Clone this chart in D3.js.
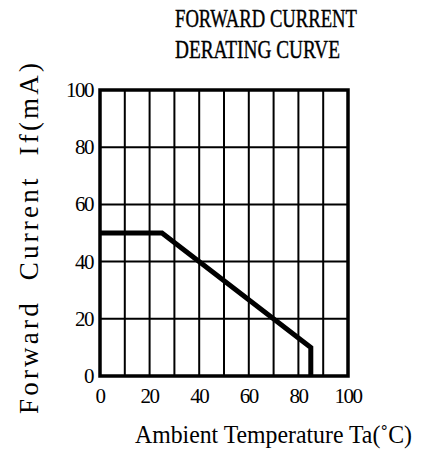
<!DOCTYPE html>
<html>
<head>
<meta charset="utf-8">
<script src="https://cdn.jsdelivr.net/npm/d3@7"></script>
<style>
  body { margin: 0; background: #fff; }
  text { font-family: "Liberation Serif", "Times New Roman", serif; fill: #000; }
</style>
</head>
<body>
<svg width="428" height="459"></svg>
<script>
// derating curve points (Ta in °C, If in mA)
var curveTa = [0, 25, 85, 85];
var curveIf = [50, 50, 10, 0];
var xTicks = [0, 20, 40, 60, 80, 100];
var yTicks = [0, 20, 40, 60, 80, 100];
var xGrid = [10, 20, 30, 40, 50, 60, 70, 80, 90];
var yGrid = [20, 40, 60, 80];
var titleLines = ["FORWARD CURRENT", "DERATING CURVE"];

var svg = d3.select("svg");
var plotL = 100, plotR = 348, plotT = 90, plotB = 376;

var x = d3.scaleLinear().domain([0, 100]).range([plotL, plotR]);
var y = d3.scaleLinear().domain([0, 100]).range([plotB, plotT]);

// grid
svg.append("g").selectAll("line")
  .data(xGrid).enter().append("line")
  .attr("x1", function (d) { return x(d); })
  .attr("x2", function (d) { return x(d); })
  .attr("y1", plotT).attr("y2", plotB)
  .attr("stroke", "#000").attr("stroke-width", 2);

svg.append("g").selectAll("line")
  .data(yGrid).enter().append("line")
  .attr("y1", function (d) { return y(d); })
  .attr("y2", function (d) { return y(d); })
  .attr("x1", plotL).attr("x2", plotR)
  .attr("stroke", "#000").attr("stroke-width", 2);

// frame
svg.append("rect")
  .attr("x", plotL).attr("y", plotT)
  .attr("width", plotR - plotL).attr("height", plotB - plotT)
  .attr("fill", "none").attr("stroke", "#000").attr("stroke-width", 3.5);

// curve
var pts = curveTa.map(function (t, i) { return [t, curveIf[i]]; });
svg.append("path")
  .datum(pts)
  .attr("d", d3.line().x(function (d) { return x(d[0]); }).y(function (d) { return y(d[1]); }))
  .attr("fill", "none").attr("stroke", "#000").attr("stroke-width", 5)
  .attr("stroke-linejoin", "miter");

// tick labels
svg.append("g").selectAll("text")
  .data(yTicks).enter().append("text")
  .attr("x", plotL - 7)
  .attr("y", function (d) { return y(d) + 7; })
  .attr("text-anchor", "end")
  .attr("font-size", 21)
  .attr("letter-spacing", -1.5)
  .text(function (d) { return d; });

svg.append("g").selectAll("text")
  .data(xTicks).enter().append("text")
  .attr("x", function (d) { return x(d); })
  .attr("y", plotB + 27)
  .attr("text-anchor", "middle")
  .attr("font-size", 21)
  .attr("letter-spacing", -1.5)
  .text(function (d) { return d; });

// title
svg.append("g").selectAll("text")
  .data(titleLines).enter().append("text")
  .attr("x", 175)
  .attr("y", function (d, i) { return 27 + i * 31; })
  .attr("font-size", 25)
  .attr("stroke", "#000").attr("stroke-width", 0.4)
  .attr("textLength", function (d, i) { return i === 0 ? 182 : 165; })
  .attr("lengthAdjust", "spacingAndGlyphs")
  .text(function (d) { return d; });

// axis titles
svg.append("text")
  .attr("x", 135).attr("y", 443)
  .attr("font-size", 25)
  .attr("textLength", 277)
  .attr("lengthAdjust", "spacingAndGlyphs")
  .text("Ambient Temperature Ta(\u02DAC)");

svg.append("text")
  .attr("transform", "translate(38,414) rotate(-90)")
  .attr("font-size", 27)
  .attr("textLength", 351)
  .attr("lengthAdjust", "spacing")
  .attr("xml:space", "preserve")
  .style("white-space", "pre")
  .text("Forward  Current  If(mA)");
</script>
</body>
</html>
